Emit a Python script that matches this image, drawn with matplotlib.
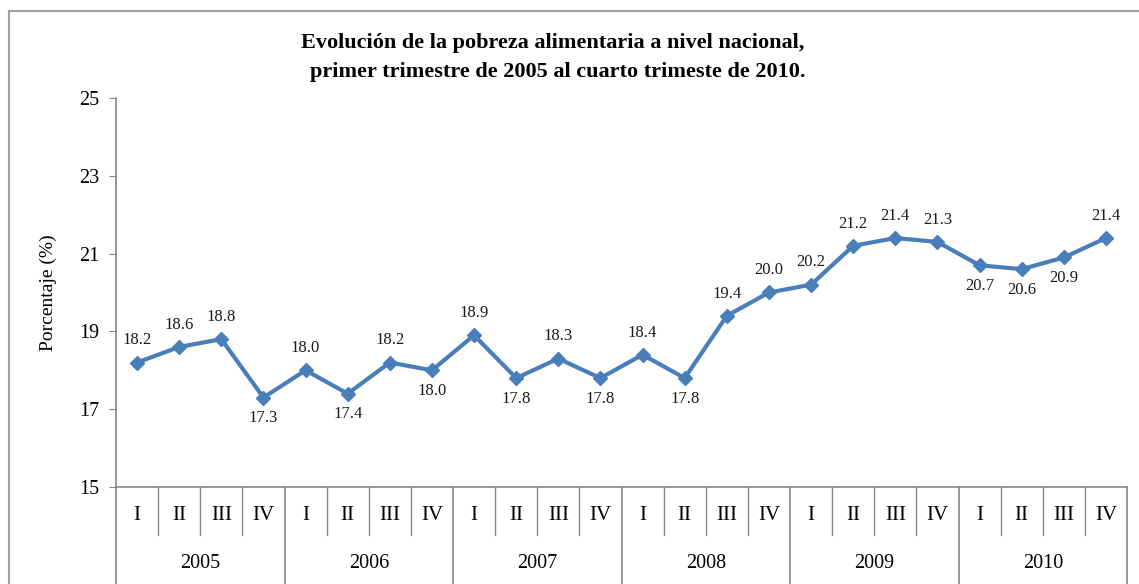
import matplotlib
matplotlib.use("Agg")
import matplotlib.pyplot as plt
from matplotlib.transforms import blended_transform_factory
from matplotlib.lines import Line2D

years = ["2005", "2006", "2007", "2008", "2009", "2010"]
quarters = ["I", "II", "III", "IV"]
values = [18.2, 18.6, 18.8, 17.3, 18.0, 17.4, 18.2, 18.0, 18.9, 17.8, 18.3, 17.8,
          18.4, 17.8, 19.4, 20.0, 20.2, 21.2, 21.4, 21.3, 20.7, 20.6, 20.9, 21.4]
label_above = [1, 1, 1, 0, 1, 0, 1, 0, 1, 0, 1, 0,
               1, 0, 1, 1, 1, 1, 1, 1, 0, 0, 0, 1]
yticks = [15, 17, 19, 21, 23, 25]

plt.rcParams['font.family'] = ['Liberation Serif', 'DejaVu Serif']

W, H = 1139, 584
fig = plt.figure(figsize=(W / 100, H / 100), dpi=100)
ax = fig.add_axes([116 / W, 1 - 487 / H, (1127 - 116) / W, (487 - 98) / H])

grey = '#868686'
line_color = '#4a7ebb'
n = len(values)
xs = list(range(n))
ax.plot(xs, values, color=line_color, lw=3, marker='D', ms=7, mfc=line_color, mec=line_color, zorder=3)

for x, v, up in zip(xs, values, label_above):
    ax.annotate(f"{v:.1f}", (x, v), xytext=(0, 16 if up else -15), textcoords='offset points',
                ha='center', va='center', fontsize=12, color='#1a1a1a')

ax.set_xlim(-0.5, n - 0.5)
ax.set_ylim(15, 25)
ax.set_yticks(yticks)
ax.set_xticks([])
ax.tick_params(axis='y', direction='out', length=5, color=grey, labelsize=14.5, pad=7)
for s in ['top', 'right']:
    ax.spines[s].set_visible(False)
for s in ['left', 'bottom']:
    ax.spines[s].set_color(grey)
    ax.spines[s].set_linewidth(1.2)
ax.set_ylabel("Porcentaje (%)", fontsize=14, labelpad=16)

# category table below axis
tr = blended_transform_factory(ax.transData, fig.transFigure)
y_axis = 1 - 487 / H
y_qbot = 1 - 535 / H
for k in range(n + 1):
    xb = k - 0.5
    if k % 4 == 0:
        ax.add_line(Line2D([xb, xb], [y_axis, 0], transform=tr, color=grey, lw=1.2, clip_on=False))
    else:
        ax.add_line(Line2D([xb, xb], [y_axis, y_qbot], transform=tr, color=grey, lw=1.0, clip_on=False))
for i in range(n):
    ax.text(i, 1 - 515 / H, quarters[i % 4], transform=tr, ha='center', va='center', fontsize=15)
for j, yr in enumerate(years):
    ax.text(4 * j + 1.5, 1 - 563 / H, yr, transform=tr, ha='center', va='center', fontsize=14.5)

# title
fig.text(553 / W, 1 - 43 / H, "Evolución de la pobreza alimentaria a nivel nacional,",
         ha='center', va='center', fontsize=16, fontweight='bold')
fig.text(558 / W, 1 - 72 / H, "primer trimestre de 2005 al cuarto trimeste de 2010.",
         ha='center', va='center', fontsize=16, fontweight='bold')

# outer frame (top and left visible)
fig.add_artist(Line2D([9 / W, 9 / W], [0, 1 - 11 / H], transform=fig.transFigure, color='#a0a0a0', lw=1.5))
fig.add_artist(Line2D([9 / W, 1], [1 - 11 / H, 1 - 11 / H], transform=fig.transFigure, color='#a0a0a0', lw=1.5))

fig.savefig("out.png", dpi=100, facecolor='white')
